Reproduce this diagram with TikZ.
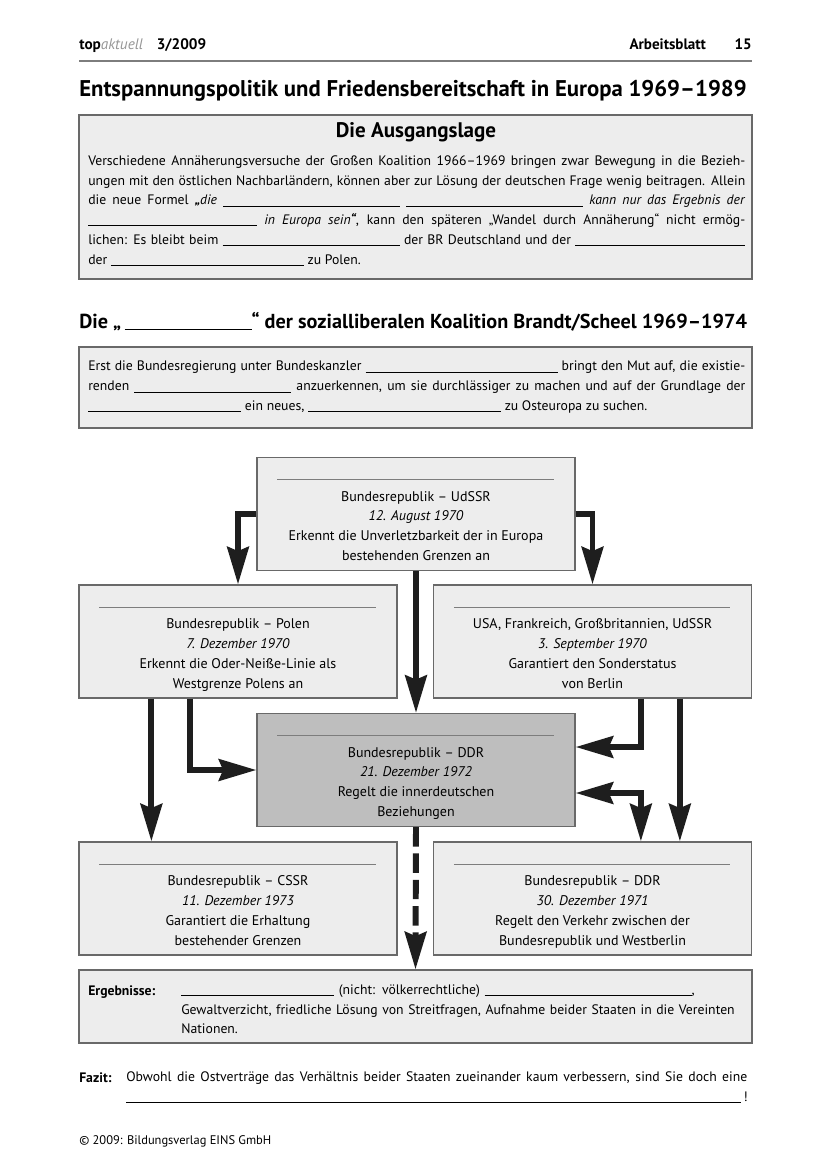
\documentclass[tikz,border=0pt]{standalone}
\usepackage{fontspec}
\setmainfont{PT Sans}
\usepackage{tikz}
\usetikzlibrary{calc,positioning,arrows.meta}
\newlength{\pxu}
\setlength{\pxu}{0.2536mm}
\newcommand{\blank}[1]{\rule[-1pt]{#1\pxu}{0.6pt}}
\definecolor{boxgrey}{RGB}{237,237,237}
\definecolor{darkbox}{RGB}{190,190,190}
\definecolor{edgegrey}{RGB}{105,105,105}
\definecolor{rulegrey}{RGB}{125,125,125}
\definecolor{inkblack}{RGB}{30,30,30}
\definecolor{softgrey}{RGB}{150,150,150}
\tikzset{
  fathead/.tip={Stealth[length=27pt,width=15.5pt,inset=3pt]},
  sheetbox/.style={draw=edgegrey, line width=0.9pt, fill=boxgrey, inner sep=0},
  flowbox/.style={sheetbox, minimum width=318\pxu, minimum height=113\pxu},
  bodytext/.style={anchor=north west, inner sep=0, align=justify, font=\fontsize{9.9}{14.4}\selectfont},
  flowtext/.style={anchor=north, inner sep=0, align=center, font=\fontsize{10.1}{14.3}\selectfont},
  headline/.style={anchor=base west, inner sep=0, font=\bfseries\fontsize{16.4}{19}\selectfont},
  innerrule/.style={draw=rulegrey, line width=0.7pt},
  fatarrow/.style={draw=inkblack, line width=4.3pt, -fathead},
}

\begin{document}
\begin{tikzpicture}[x=0.2536mm, y=-0.2536mm]
      \useasboundingbox (0,0) rectangle (828,1171);
      % header
      \node[anchor=base west, inner sep=0, font=\fontsize{11}{13}\selectfont] (issue) at (79,49)
        {\textbf{top}\textcolor{softgrey}{\itshape aktuell}\hspace{0.9em}\textbf{3/2009}};
      \node[anchor=base east, inner sep=0, font=\bfseries\fontsize{10.9}{13}\selectfont] (sheet) at (752,49)
        {Arbeitsblatt\hspace{1.9em}15};
      \draw[rulegrey, line width=1.1pt] (79,61) -- (752,61);
      \node[headline] (title) at (79,96) {Entspannungspolitik und Friedensbereitschaft in Europa 1969–1989};

      % Ausgangslage
      \node[sheetbox, minimum width=673\pxu, minimum height=164\pxu] (lage) at (415.5,197) {};
      \node[inner sep=0, font=\bfseries\fontsize{15.2}{18}\selectfont] (lagehead) at (416,132) {Die Ausgangslage};
      \node[bodytext, text width=657\pxu] (lagetext) at (88,155) {Verschiedene Annäherungsversuche der Großen Koalition 1966–1969 bringen zwar Bewegung in die Bezieh-\linebreak
        ungen mit den östlichen Nachbarländern, können aber zur Lösung der deutschen Frage wenig beitragen. Allein\linebreak
        die neue Formel \textit{\textbf{„}die} \blank{177} \blank{177} \textit{kann nur das Ergebnis der}\linebreak
        \blank{169} \textit{in Europa sein\textbf{“}}, kann den späteren „Wandel durch Annäherung“ nicht ermög-\linebreak
        lichen: Es bleibt beim \blank{177} der BR Deutschland und der \blank{170}\linebreak
        der \blank{193} zu Polen.};

      % sozialliberale Koalition
      \node[headline, font=\bfseries\fontsize{14.6}{18}\selectfont] (koalhead) at (79,328) {Die „\,\blank{127}“ der sozialliberalen Koalition Brandt/Scheel 1969–1974};
      \node[sheetbox, minimum width=673\pxu, minimum height=81\pxu] (koal) at (415.5,387.5) {};
      \node[bodytext, text width=657\pxu] (koaltext) at (88,361) {Erst die Bundesregierung unter Bundeskanzler \blank{192} bringt den Mut auf, die existie-\linebreak
        renden \blank{157} anzuerkennen, um sie durchlässiger zu machen und auf der Grundlage der\linebreak
        \blank{153} ein neues, \blank{193} zu Osteuropa zu suchen.};

      % Vertraege
      \node[flowbox] (udssr) at (416,514) {};
      \node[flowbox] (polen) at (238,641.5) {};
      \node[flowbox] (berlin) at (592.5,641.5) {};
      \node[flowbox, fill=darkbox] (ddr72) at (416,770) {};
      \node[flowbox] (cssr) at (238,898.5) {};
      \node[flowbox] (ddr71) at (592.5,898.5) {};
      \draw[innerrule] ($(udssr.north west)+(21,23)$) -- ($(udssr.north east)+(-22,23)$);
      \draw[innerrule] ($(polen.north west)+(21,23)$) -- ($(polen.north east)+(-22,23)$);
      \draw[innerrule] ($(berlin.north west)+(21,23)$) -- ($(berlin.north east)+(-22,23)$);
      \draw[innerrule] ($(ddr72.north west)+(21,23)$) -- ($(ddr72.north east)+(-22,23)$);
      \draw[innerrule] ($(cssr.north west)+(21,23)$) -- ($(cssr.north east)+(-22,23)$);
      \draw[innerrule] ($(ddr71.north west)+(21,23)$) -- ($(ddr71.north east)+(-22,23)$);
      \node[flowtext] (udssrtext) at ($(udssr.north)+(0,34)$) {Bundesrepublik – UdSSR\\\textit{12. August 1970}\\Erkennt die Unverletzbarkeit der in Europa\\bestehenden Grenzen an};
      \node[flowtext] (polentext) at ($(polen.north)+(0,34)$) {Bundesrepublik – Polen\\\textit{7. Dezember 1970}\\Erkennt die Oder-Neiße-Linie als\\Westgrenze Polens an};
      \node[flowtext] (berlintext) at ($(berlin.north)+(0,34)$) {USA, Frankreich, Großbritannien, UdSSR\\\textit{3. September 1970}\\Garantiert den Sonderstatus\\von Berlin};
      \node[flowtext] (ddr72text) at ($(ddr72.north)+(0,34)$) {Bundesrepublik – DDR\\\textit{21. Dezember 1972}\\Regelt die innerdeutschen\\Beziehungen};
      \node[flowtext] (cssrtext) at ($(cssr.north)+(0,34)$) {Bundesrepublik – CSSR\\\textit{11. Dezember 1973}\\Garantiert die Erhaltung\\bestehender Grenzen};
      \node[flowtext] (ddr71text) at ($(ddr71.north)+(0,34)$) {Bundesrepublik – DDR\\\textit{30. Dezember 1971}\\Regelt den Verkehr zwischen der\\Bundesrepublik und Westberlin};

      % Ergebnisse
      \node[sheetbox, minimum width=673\pxu, minimum height=73\pxu] (ergeb) at (415.5,1006.5) {};
      \node[anchor=base west, inner sep=0, font=\bfseries\fontsize{9.9}{14.4}\selectfont] (ergeblabel) at (88,995) {Ergebnisse:};
      \node[bodytext, align=left, text width=565\pxu] (ergebtext) at (181,984) {\blank{153} (nicht: völkerrechtliche) \blank{207},\\
        Gewaltverzicht, friedliche Lösung von Streitfragen, Aufnahme beider Staaten in die Vereinten\\
        Nationen.};

      % Pfeile
      \draw[fatarrow] (udssr.west) -| (polen.north);
      \draw[fatarrow] (udssr.east) -| (berlin.north);
      \draw[fatarrow] (udssr.south) -- (ddr72.north);
      \draw[fatarrow] ($(polen.south west)+(73,0)$) -- ($(cssr.north west)+(73,0)$);
      \draw[fatarrow] ($(polen.south west)+(112,0)$) |- (ddr72.west);
      \draw[fatarrow] ($(berlin.south west)+(208,0)$) |- ($(ddr72.east)+(0,-23)$);
      \draw[fatarrow] ($(berlin.south west)+(247,0)$) -- ($(ddr71.north west)+(247,0)$);
      \draw[fatarrow, fathead-fathead] ($(ddr72.east)+(0,23)$) -| ($(ddr71.north west)+(208,0)$);
      \draw[fatarrow, dash pattern=on 14pt off 5pt] (ddr72.south) -- (ergeb.north);

      % Fazit
      \node[anchor=base west, inner sep=0, font=\bfseries\fontsize{9.9}{14.4}\selectfont] (fazitlabel) at (79,1082) {Fazit:};
      \node[bodytext, text width=621\pxu] (fazittext) at (126,1071) {Obwohl die Ostverträge das Verhältnis beider Staaten zueinander kaum verbessern, sind Sie doch eine\linebreak
        \blank{615}\,!};
      \node[anchor=base west, inner sep=0, font=\fontsize{9}{11}\selectfont] (copyright) at (79,1144) {© 2009: Bildungsverlag EINS GmbH};
    \end{tikzpicture}
\end{document}
